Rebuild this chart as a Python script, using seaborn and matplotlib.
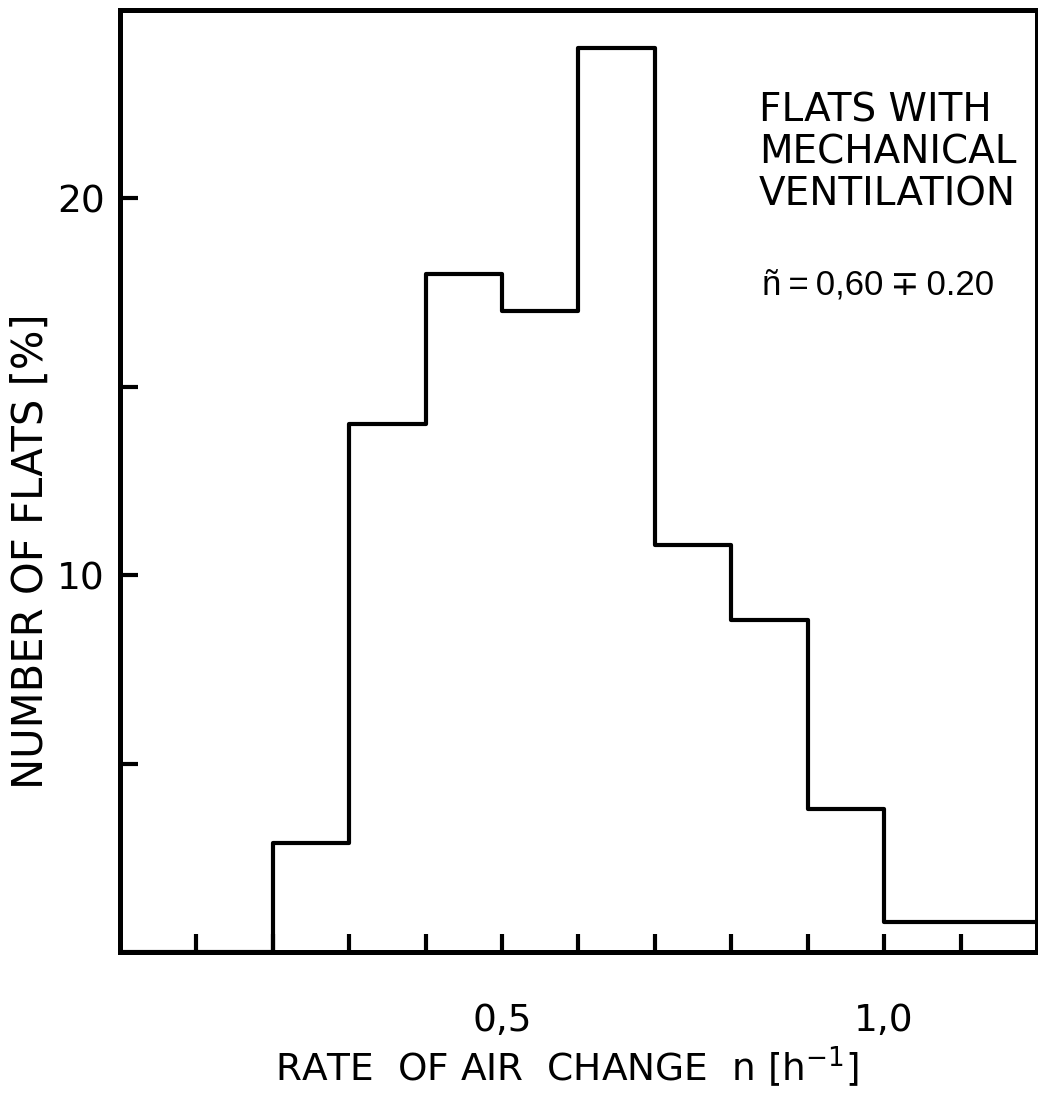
import matplotlib
matplotlib.use("Agg")
import matplotlib.pyplot as plt
import seaborn as sns
import numpy as np
import pandas as pd

# Data
bin_edges = [0.0, 0.1, 0.2, 0.3, 0.4, 0.5, 0.6, 0.7, 0.8, 0.9, 1.0, 1.2]
flats_pct = [0.0, 0.0, 2.9, 14.0, 18.0, 17.0, 24.0, 10.8, 8.8, 3.8, 0.8]
x_major_ticks = [0.5, 1.0]
x_major_labels = ["0,5", "1,0"]
x_minor_ticks = [0.1, 0.2, 0.3, 0.4, 0.6, 0.7, 0.8, 0.9, 1.1]
y_major_ticks = [10, 20]
y_minor_ticks = [5, 15]

sns.set_theme(style="white")
plt.rcParams['font.family'] = ['DejaVu Sans']
plt.rcParams['text.color'] = 'black'
plt.rcParams['axes.labelcolor'] = 'black'
plt.rcParams['xtick.color'] = 'black'
plt.rcParams['ytick.color'] = 'black'

centers = [(a + b) / 2 for a, b in zip(bin_edges[:-1], bin_edges[1:])]
df = pd.DataFrame({"rate": centers, "pct": flats_pct})

fig = plt.figure(figsize=(10.38, 10.95), dpi=100)
ax = fig.add_axes([0.1156, 0.1306, 0.8834, 0.8604])

sns.histplot(data=df, x="rate", weights="pct", bins=bin_edges,
             element="step", fill=False, color="black", linewidth=3.0, ax=ax)

ax.set_xlim(0, 1.2)
ax.set_ylim(0, 25)

for s in ax.spines.values():
    s.set_visible(True)
    s.set_color("black")
    s.set_linewidth(3.6)

ax.set_xticks(x_major_ticks)
ax.set_xticklabels(x_major_labels)
ax.set_xticks(x_minor_ticks, minor=True)
ax.set_yticks(y_major_ticks)
ax.set_yticklabels([str(v) for v in y_major_ticks])
ax.set_yticks(y_minor_ticks, minor=True)

ax.tick_params(axis="both", which="both", direction="in", length=13, width=3.0,
               color="black", bottom=True, left=True, top=False, right=False)
ax.tick_params(axis="x", which="major", labelsize=27, pad=37)
ax.tick_params(axis="y", which="major", labelsize=27, pad=11)

ax.set_xlabel(r"RATE  OF AIR  CHANGE  n [h$^{-1}$]", fontsize=27)
ax.xaxis.set_label_coords(0.487, -0.098)
ax.set_ylabel("NUMBER OF FLATS [%]", fontsize=30)
ax.yaxis.set_label_coords(-0.074, 0.425)

ax.text(0.697, 0.913, "FLATS WITH\nMECHANICAL\nVENTILATION", transform=ax.transAxes,
        fontsize=28, va="top", ha="left", linespacing=1.12)
ax.text(0.700, 0.726, "ñ\u2009=\u20090,60\u2009∓\u20090.20", transform=ax.transAxes,
        fontsize=25, va="top", ha="left", family=["Liberation Sans", "DejaVu Sans"])

fig.savefig("out.png", dpi=100)
